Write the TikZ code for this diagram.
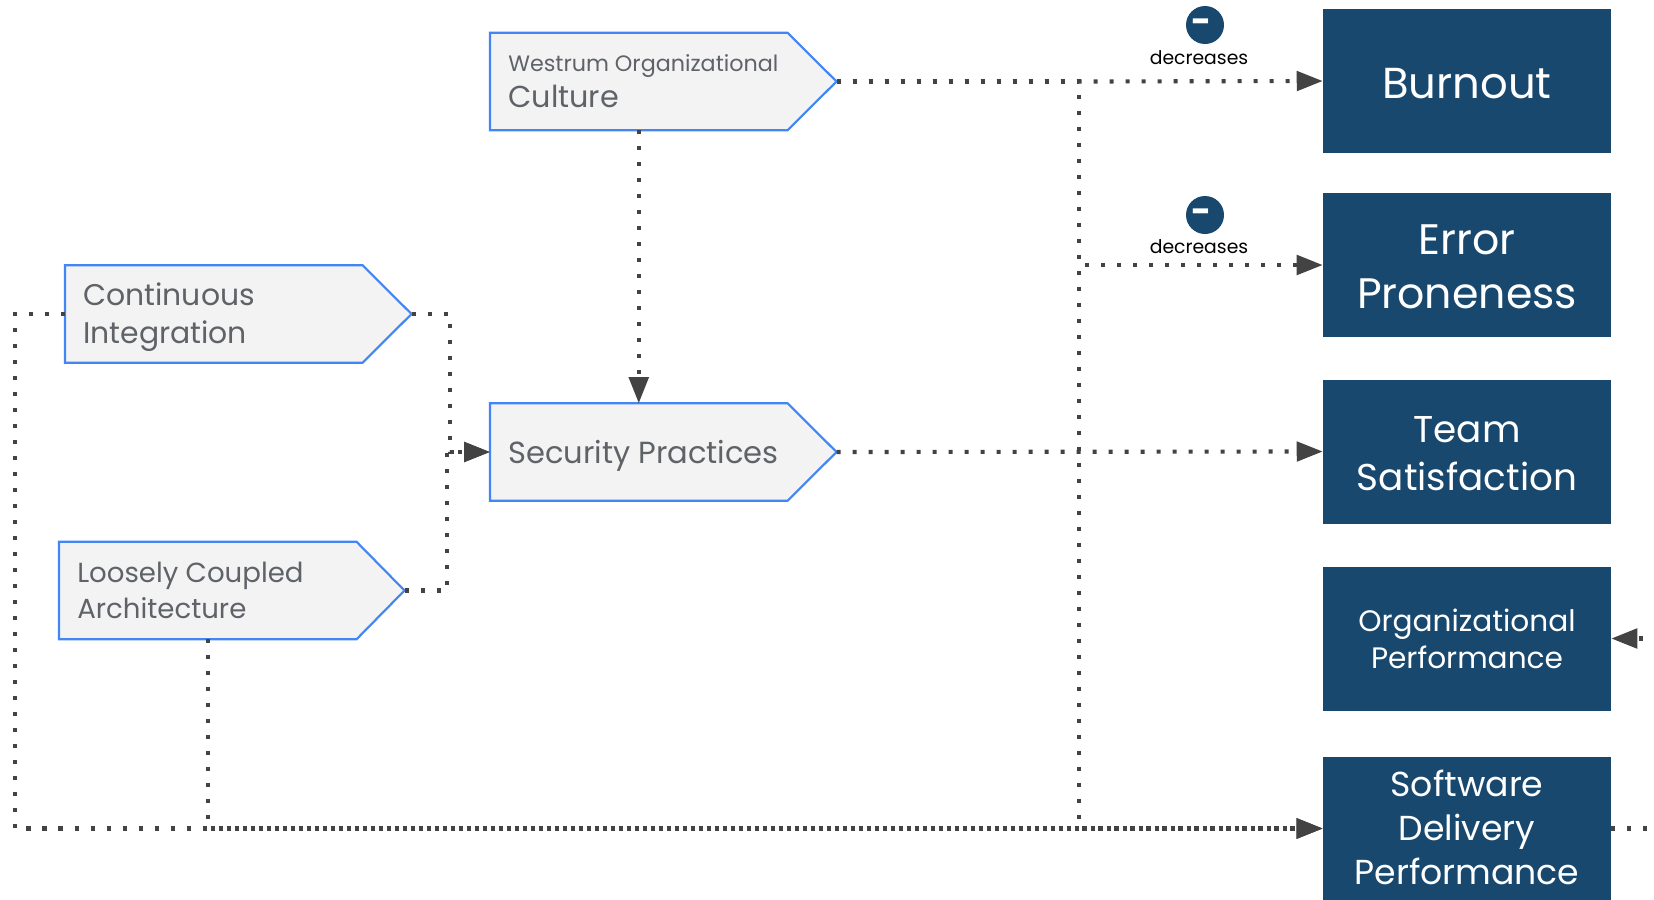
\documentclass[tikz,border=0pt]{standalone}
\usepackage{fontspec}
\setmainfont{Poppins}
\usetikzlibrary{arrows.meta,positioning}
\definecolor{navy}{HTML}{19486F}
\definecolor{pentfill}{HTML}{F3F3F3}
\definecolor{pentline}{HTML}{4285F4}
\definecolor{penttext}{HTML}{5F6368}
\definecolor{conn}{HTML}{434343}
\newcommand{\fs}[2]{\fontsize{#1}{#2}\selectfont}
\tikzset{
  x=0.75pt,y=-0.75pt,
  outcome/.style={fill=navy,text=white,minimum width=216pt,minimum height=108pt,inner sep=0pt,align=center},
  outcometext/.style={text=white,inner sep=0pt,align=center},
  pentbody/.style={minimum width=222.75pt,minimum height=72.75pt,inner sep=0pt},
  pentlabel/.style={text=penttext,inner sep=0pt,align=left,anchor=west},
  pentedge/.style={draw=pentline,fill=pentfill,line width=1.6pt,line join=miter},
  flow/.style={draw=conn,line width=3.1pt,dash pattern=on 3.1pt off 8.9pt},
  flowarrow/.style={flow,-{Triangle[length=19.5pt,width=14.5pt,fill=conn]}},
  minusdot/.style={circle,fill=navy,minimum size=28.5pt,inner sep=0pt},
  minussign/.style={text=white,inner sep=0pt,font=\fs{26}{26}\bfseries},
  edgelabel/.style={text=black,inner sep=0pt,font=\fs{14.1}{16}},
}
\newcommand{\pent}[7]{% name, left x, center y, tip, label shift in px, font, text
  \node[pentbody,anchor=west] (#1) at (#2,#3) {};
  \coordinate (#1tip) at ([xshift=#4*0.75pt]#1.east);
  \draw[pentedge] (#1.north west) -- (#1.north east) -- (#1tip) -- (#1.south east) -- (#1.south west) -- cycle;
  \node[pentlabel,font=#6] (#1label) at ([xshift=13.5pt,yshift=#5*-0.75pt]#1.west) {#7};
}
\begin{document}
\begin{tikzpicture}
\useasboundingbox (0,0) rectangle (1654,900);
\clip (0,0) rectangle (1654,900);
\fill[white] (0,0) rectangle (1654,900);

% outcomes
\node[outcome] (burn) at (1467,81) {};
\node[outcometext,font=\fs{32.5}{40}] (burnt) at (1467,83.5) {Burnout};
\node[outcome] (err) at (1467,265) {};
\node[outcometext,font=\fs{32}{40.5}] (errt) at (1467,267) {Error\\Proneness};
\node[outcome] (team) at (1467,451.5) {};
\node[outcometext,font=\fs{28}{36}] (teamt) at (1467,453.5) {Team\\Satisfaction};
\node[outcome] (org) at (1467,638.5) {};
\node[outcometext,font=\fs{22.2}{28}] (orgt) at (1467,639) {Organizational\\Performance};
\node[outcome] (sdp) at (1467,828.5) {};
\node[outcometext,font=\fs{26}{33}] (sdpt) at (1467,827.5) {Software\\Delivery\\Performance};

% capabilities
\pent{cult}{490}{81.5}{49}{-0.5}{\fs{22.7}{27}}{{\fs{16.7}{27}Westrum Organizational}\\Culture}
\pent{sec}{490}{452}{49}{3.5}{\fs{22.9}{28}}{Security Practices}
\pent{ci}{65}{314}{49}{3.5}{\fs{22.4}{28.5}}{Continuous\\Integration}
\pent{lca}{59}{590.5}{48}{0}{\fs{20.7}{26.5}}{Loosely Coupled\\Architecture}

% connector corners
\coordinate (leftrail) at (15,0);
\coordinate (cirail) at (450,0);
\coordinate (lcarail) at (447,0);
\coordinate (outrail) at (1079,0);
\coordinate (offpage) at (1700,0);

% connectors
\draw[flowarrow] (cult.south) -- (sec.north);
\draw[flowarrow,dash phase=1.1pt] (outrail |- culttip) -- (burn.west);
\draw[flowarrow] (culttip) -- (outrail |- culttip) -- (outrail |- err.west) -- (err.west);
\draw[flowarrow] (culttip) -- (outrail |- culttip) -- (outrail |- sdp.west) -- (sdp.west);
\draw[flowarrow] (sectip) -- (team.west);
\draw[flowarrow] (citip) -- (cirail |- citip) -- (cirail |- sec.west) -- (sec.west);
\draw[flowarrow] (lcatip) -- (lcarail |- lcatip) -- (lcarail |- sec.west) -- (sec.west);
\draw[flowarrow] (ci.west) -- (leftrail |- ci.west) -- (leftrail |- sdp.west) -- (sdp.west);
\draw[flowarrow] (lca.south) -- (lca.south |- sdp.west) -- (sdp.west);
\draw[flowarrow] (sdp.east) -- (offpage |- sdp.east) -- (offpage |- org.east) -- (org.east);

% badges
\node[minusdot] (m1) at (1205,25) {};
\node[minussign] (m1s) at (1202,26.5) {-};
\node[edgelabel] (d1) at (1199,58) {decreases};
\node[minusdot] (m2) at (1205,215) {};
\node[minussign] (m2s) at (1202,216.5) {-};
\node[edgelabel] (d2) at (1199,247) {decreases};
\end{tikzpicture}
\end{document}
